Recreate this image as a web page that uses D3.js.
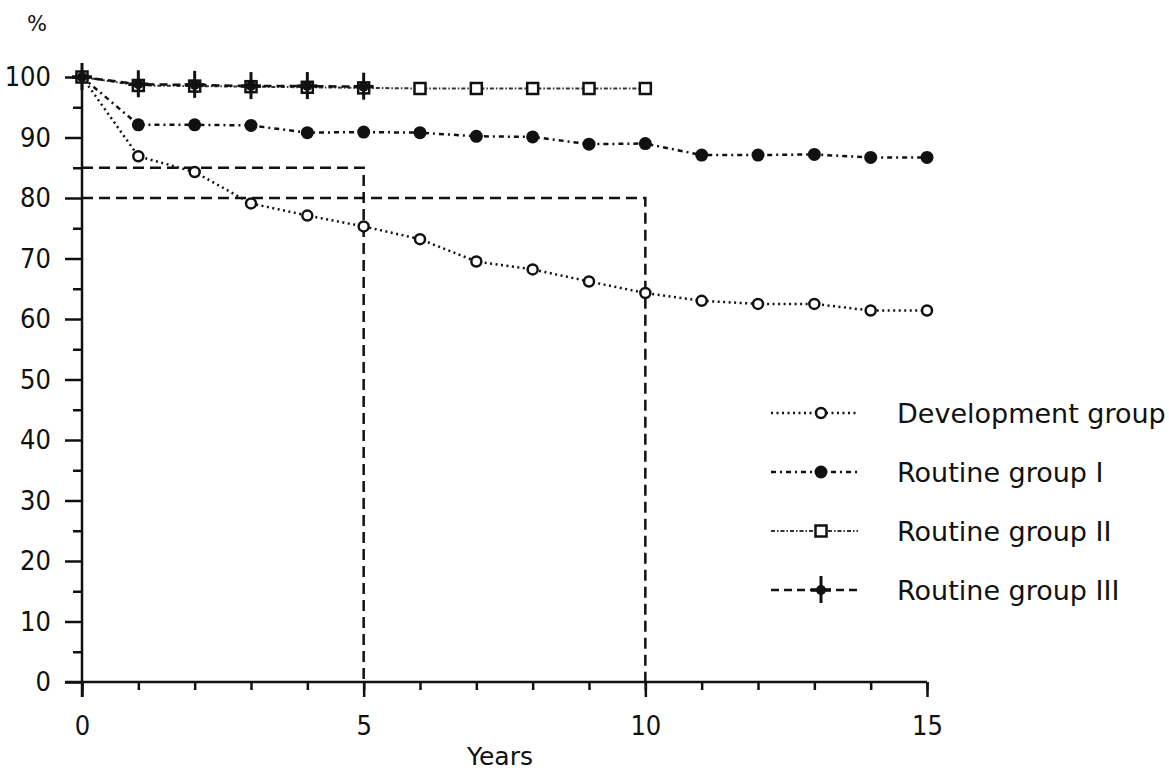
<!DOCTYPE html>
<html>
<head>
<meta charset="utf-8">
<script src="https://cdn.jsdelivr.net/npm/d3@7"></script>
<style>
  body { margin: 0; background: #fff; }
  text { font-family: "DejaVu Sans", sans-serif; fill: #111; }
  .tick text { font-family: "Liberation Sans Narrow", "DejaVu Sans Condensed", "DejaVu Sans", sans-serif; }
</style>
</head>
<body>
<div id="chart"></div>
<script>
// data
var years = [0, 1, 2, 3, 4, 5, 6, 7, 8, 9, 10, 11, 12, 13, 14, 15];
var devValues = [100, 86.9, 84.3, 79.1, 77.1, 75.3, 73.2, 69.5, 68.2, 66.2, 64.3, 63.0, 62.5, 62.5, 61.4, 61.4];
var routine1Values = [100, 92.1, 92.1, 92.0, 90.8, 90.9, 90.8, 90.2, 90.1, 88.9, 89.0, 87.1, 87.1, 87.2, 86.7, 86.7];
var routine2Values = [100, 98.6, 98.5, 98.4, 98.3, 98.2, 98.1, 98.1, 98.1, 98.1, 98.1];
var routine3Values = [100, 98.8, 98.7, 98.5, 98.5, 98.4];
var xMajorTicks = [0, 5, 10, 15];
var yMajorTicks = [0, 10, 20, 30, 40, 50, 60, 70, 80, 90, 100];
var yMinorTicks = [5, 15, 25, 35, 45, 55, 65, 75, 85, 95];
// survival reference lines (year, percent)
var refYears = [5, 10];
var refValues = [85, 80];
var legendLabels = ["Development group", "Routine group I", "Routine group II", "Routine group III"];

var width = 1169, height = 772;

var svg = d3.select("#chart").append("svg")
    .attr("width", width)
    .attr("height", height);

var x = d3.scaleLinear().domain([0, 15]).range([82, 927]);
var y = d3.scaleLinear().domain([0, 100]).range([682, 77]);

// axes
var xAxisMinor = d3.axisBottom(x).tickValues(years).tickSize(8).tickFormat("");
var xAxisMajor = d3.axisBottom(x).tickValues(xMajorTicks).tickSize(15).tickPadding(19).tickFormat(d3.format("d"));
var yAxisMinor = d3.axisLeft(y).tickValues(yMinorTicks).tickSize(9).tickFormat("");
var yAxisMajor = d3.axisLeft(y).tickValues(yMajorTicks).tickSize(17).tickPadding(14).tickFormat(d3.format("d"));

function styleAxis(g) {
    g.select(".domain").remove();
    g.selectAll(".tick line").attr("stroke", "#111").attr("stroke-width", 2.5);
    g.selectAll(".tick text").style("font-size", "27px").attr("fill", "#111");
}

svg.append("g").attr("transform", "translate(0," + y(0) + ")").call(xAxisMinor).call(styleAxis);
svg.append("g").attr("transform", "translate(0," + y(0) + ")").call(xAxisMajor).call(styleAxis);
svg.append("g").attr("transform", "translate(" + x(0) + ",0)").call(yAxisMinor).call(styleAxis);
svg.append("g").attr("transform", "translate(" + x(0) + ",0)").call(yAxisMajor).call(styleAxis);

// axis lines, slightly overshooting like the original
svg.append("line")
    .attr("x1", x(0) - 17).attr("x2", x(15))
    .attr("y1", y(0)).attr("y2", y(0))
    .attr("stroke", "#111").attr("stroke-width", 2.5);
svg.append("line")
    .attr("x1", x(0)).attr("x2", x(0))
    .attr("y1", y(0) + 15).attr("y2", y(100))
    .attr("stroke", "#111").attr("stroke-width", 2.5);

svg.append("text").attr("x", 27).attr("y", 31).style("font-size", "21px").text("%");
svg.append("text").attr("x", 500).attr("y", 765).attr("text-anchor", "middle")
    .style("font-size", "25px").text("Years");

// reference lines
refYears.forEach(function (yr, i) {
    var path = d3.path();
    path.moveTo(x(0), y(refValues[i]));
    path.lineTo(x(yr), y(refValues[i]));
    path.lineTo(x(yr), y(0));
    svg.append("path")
        .attr("d", path.toString())
        .attr("fill", "none")
        .attr("stroke", "#111")
        .attr("stroke-width", 2.5)
        .attr("stroke-dasharray", "11,6");
});

var line = d3.line()
    .x(function (d) { return x(d[0]); })
    .y(function (d) { return y(d[1]); });

function pairs(vals) {
    return vals.map(function (v, i) { return [years[i], v]; });
}

var series = [
    { name: legendLabels[0], values: devValues, dash: "2,3.5", width: 2.5, color: "#111", marker: "circleOpen" },
    { name: legendLabels[1], values: routine1Values, dash: "5,4,2,4", width: 2.5, color: "#111", marker: "circleFilled" },
    { name: legendLabels[2], values: routine2Values, dash: "4,2,1.5,2", width: 2, color: "#333", marker: "square" },
    { name: legendLabels[3], values: routine3Values, dash: "8,5", width: 2.5, color: "#111", marker: "cross" }
];

function drawMarker(g, type, cx, cy) {
    if (type === "circleOpen") {
        g.append("circle").attr("cx", cx).attr("cy", cy).attr("r", 5)
            .attr("fill", "#fff").attr("stroke", "#111").attr("stroke-width", 2.5);
    } else if (type === "circleFilled") {
        g.append("circle").attr("cx", cx).attr("cy", cy).attr("r", 6.5).attr("fill", "#111");
    } else if (type === "square") {
        g.append("rect").attr("x", cx - 5.5).attr("y", cy - 5.5).attr("width", 11).attr("height", 11)
            .attr("fill", "#fff").attr("stroke", "#111").attr("stroke-width", 2.5);
    } else if (type === "cross") {
        g.append("line").attr("x1", cx).attr("x2", cx).attr("y1", cy - 14).attr("y2", cy + 13)
            .attr("stroke", "#111").attr("stroke-width", 3);
        g.append("line").attr("x1", cx - 10).attr("x2", cx + 10).attr("y1", cy).attr("y2", cy)
            .attr("stroke", "#111").attr("stroke-width", 3.5);
        g.append("circle").attr("cx", cx).attr("cy", cy).attr("r", 5).attr("fill", "#111");
    }
}

series.forEach(function (s) {
    var pts = pairs(s.values);
    svg.append("path")
        .datum(pts)
        .attr("d", line)
        .attr("fill", "none")
        .attr("stroke", s.color)
        .attr("stroke-width", s.width)
        .attr("stroke-dasharray", s.dash);
});

// markers drawn after lines; crosses last so squares stay visible under them
series.forEach(function (s) {
    var g = svg.append("g");
    pairs(s.values).forEach(function (p) {
        drawMarker(g, s.marker, x(p[0]), y(p[1]));
    });
});

// legend
var legend = svg.append("g");
series.forEach(function (s, i) {
    var ly = 413 + i * 59;
    legend.append("line")
        .attr("x1", 771).attr("x2", 858)
        .attr("y1", ly).attr("y2", ly)
        .attr("stroke", s.color)
        .attr("stroke-width", s.width)
        .attr("stroke-dasharray", s.dash);
    drawMarker(legend, s.marker, 821, ly);
    legend.append("text")
        .attr("x", 897).attr("y", ly)
        .attr("dy", "0.36em")
        .style("font-size", "27px")
        .text(s.name);
});
</script>
</body>
</html>
